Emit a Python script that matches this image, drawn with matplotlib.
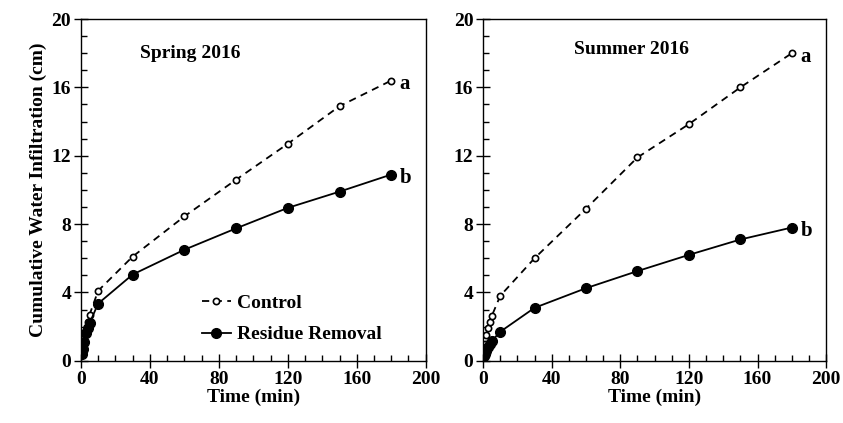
import matplotlib
matplotlib.use("Agg")
import matplotlib.pyplot as plt
from matplotlib.ticker import MultipleLocator

plt.rcParams['font.family'] = ['Liberation Serif', 'DejaVu Serif']
plt.rcParams['font.weight'] = 'bold'

time_min = [0.5, 1, 2, 3, 4, 5, 10, 30, 60, 90, 120, 150, 180]

spring_control = [0.5, 0.9, 1.4, 1.8, 2.3, 2.7, 4.1, 6.1, 8.45, 10.6, 12.7, 14.9, 16.4]
spring_residue = [0.4, 0.7, 1.1, 1.6, 1.9, 2.2, 3.35, 5.05, 6.5, 7.75, 8.95, 9.9, 10.9]

summer_control = [0.6, 1.0, 1.5, 1.9, 2.3, 2.6, 3.8, 6.0, 8.9, 11.9, 13.85, 16.0, 18.0]
summer_residue = [0.3, 0.4, 0.6, 0.8, 1.0, 1.15, 1.7, 3.1, 4.25, 5.25, 6.2, 7.1, 7.8]

panels = [
    ("Spring 2016", spring_control, spring_residue, "a", "b", 34, 18.0),
    ("Summer 2016", summer_control, summer_residue, "a", "b", 53, 18.2),
]

fig = plt.figure(figsize=(8.43, 4.23), dpi=100)
positions = [[0.096, 0.147, 0.409, 0.808], [0.573, 0.147, 0.407, 0.808]]

for i, (title, ctrl, res, la, lb, tx, ty) in enumerate(panels):
    ax = fig.add_axes(positions[i])
    ax.plot(time_min, ctrl, '--', color='black', lw=1.3, marker='o', ms=4.5,
            mfc='white', mec='black', mew=1.2, label='Control', dashes=(4, 3))
    ax.plot(time_min, res, '-', color='black', lw=1.3, marker='o', ms=7,
            mfc='black', mec='black', label='Residue Removal')
    ax.set_xlim(0, 200)
    ax.set_ylim(0, 20)
    ax.xaxis.set_major_locator(MultipleLocator(40))
    ax.xaxis.set_minor_locator(MultipleLocator(10))
    ax.yaxis.set_major_locator(MultipleLocator(4))
    ax.yaxis.set_minor_locator(MultipleLocator(1))
    ax.tick_params(which='major', direction='inout', length=10, width=1,
                   labelsize=14, pad=2)
    ax.tick_params(which='minor', direction='in', length=4, width=1)
    for sp in ax.spines.values():
        sp.set_linewidth(1.0)
    ax.set_xlabel('Time (min)', fontsize=14, fontweight='bold', labelpad=1)
    ax.text(tx, ty, title, fontsize=14, fontweight='bold', va='center', ha='left')
    ax.text(time_min[-1] + 5, ctrl[-1] - 0.2, la, fontsize=15, fontweight='bold', va='center')
    ax.text(time_min[-1] + 5, res[-1] - 0.2, lb, fontsize=15, fontweight='bold', va='center')
    if i == 0:
        ax.set_ylabel('Cumulative Water Infiltration (cm)', fontsize=14,
                      fontweight='bold', labelpad=3)
        ax.legend(loc='lower left', bbox_to_anchor=(0.3, 0.0), frameon=False,
                  fontsize=14, handlelength=1.5, handletextpad=0.3, labelspacing=0.7)

fig.savefig('out.png', dpi=100)
